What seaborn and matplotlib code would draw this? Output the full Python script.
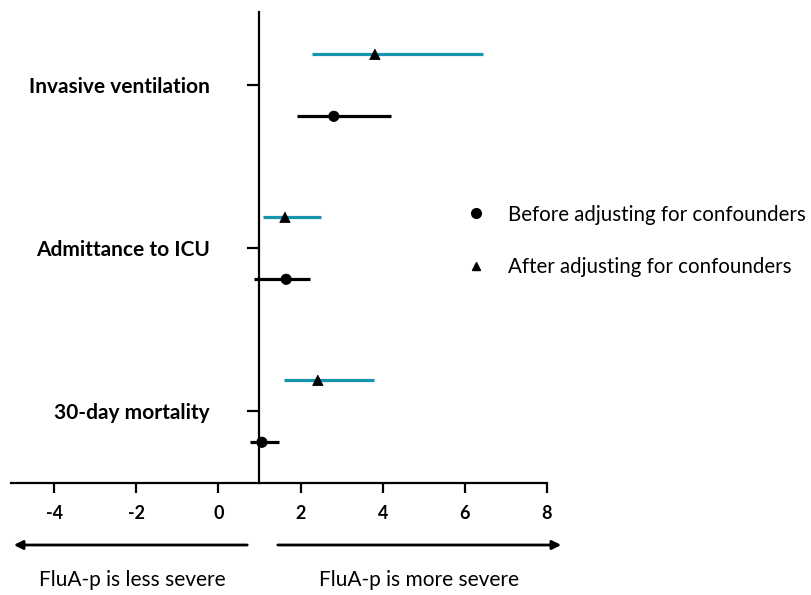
import numpy as np
import pandas as pd
import seaborn as sns
import matplotlib.pyplot as plt
from matplotlib.lines import Line2D

# Odds ratios with confidence intervals
outcomes = ['Invasive ventilation', 'Admittance to ICU', '30-day mortality']
before_est = [2.81, 1.65, 1.06]
before_lo = [1.92, 0.87, 0.77]
before_hi = [4.20, 2.23, 1.48]
after_est = [3.81, 1.62, 2.42]
after_lo = [2.28, 1.09, 1.60]
after_hi = [6.44, 2.50, 3.79]
x_ticks = [-4, -2, 0, 2, 4, 6, 8]

lab_before = 'Before adjusting for confounders'
lab_after = 'After adjusting for confounders'
teal = '#1795ad'

sns.set_style('white')
plt.rcParams['font.family'] = ['Lato', 'DejaVu Sans']
plt.rcParams['text.color'] = 'black'
plt.rcParams['xtick.color'] = 'black'
plt.rcParams['ytick.color'] = 'black'

pos = np.arange(len(outcomes))
df = pd.DataFrame({
    'outcome': outcomes * 2,
    'group': [lab_before] * 3 + [lab_after] * 3,
    'est': before_est + after_est,
    'lo': before_lo + after_lo,
    'hi': before_hi + after_hi,
    'y': list(pos + 0.19) + list(pos - 0.19),
})

fig = plt.figure(figsize=(8.11, 5.95), dpi=100)
ax = fig.add_axes([11 / 811, 112 / 595, 536 / 811, 471 / 595])

bef = df[df['group'] == lab_before]
aft = df[df['group'] == lab_after]
ax.hlines(aft['y'], aft['lo'], aft['hi'], color=teal, lw=2.3, zorder=2)
ax.hlines(bef['y'], bef['lo'], bef['hi'], color='black', lw=2.3, zorder=2)
sns.scatterplot(data=df, x='est', y='y', style='group',
                markers={lab_before: 'o', lab_after: '^'},
                color='black', edgecolor='black', s=55, legend=False,
                zorder=3, ax=ax)

# y axis sits at x = 1 (no effect)
for s in ['top', 'right']:
    ax.spines[s].set_visible(False)
ax.spines['left'].set_position(('data', 1))
for s in ['left', 'bottom']:
    ax.spines[s].set_linewidth(1.6)
    ax.spines[s].set_color('black')

ax.set_xlim(-5.05, 8.0)
ax.set_ylim(2.44, -0.45)
ax.set_xticks(x_ticks)
ax.set_xticklabels([str(t) for t in x_ticks], fontweight='bold', fontsize=13)
ax.set_yticks(pos)
ax.set_yticklabels(outcomes, fontweight='bold', fontsize=15)
ax.set_xlabel('')
ax.set_ylabel('')
ax.tick_params(axis='y', direction='out', length=9, width=1.6, pad=27, left=True)
ax.tick_params(axis='x', direction='out', length=7, width=1.6, pad=9, bottom=True)

handles = [
    Line2D([], [], ls='none', marker='o', color='black', markersize=7, label=lab_before),
    Line2D([], [], ls='none', marker='^', color='black', markersize=6, label=lab_after),
]
fig.legend(handles=handles, loc='center left', bbox_to_anchor=(437 / 811, 1 - 241 / 595),
           frameon=False, fontsize=14.8, labelspacing=1.6, handletextpad=0.55)

# direction arrows under the axis
ax.annotate('', xy=(11 / 811, 1 - 545 / 595), xytext=(250 / 811, 1 - 545 / 595),
            xycoords='figure fraction', textcoords='figure fraction',
            arrowprops=dict(arrowstyle='-|>', color='black', lw=2, mutation_scale=13))
ax.annotate('', xy=(564 / 811, 1 - 545 / 595), xytext=(275 / 811, 1 - 545 / 595),
            xycoords='figure fraction', textcoords='figure fraction',
            arrowprops=dict(arrowstyle='-|>', color='black', lw=2, mutation_scale=13))
fig.text(132 / 811, 1 - 580 / 595, 'FluA-p is less severe', ha='center', va='center', fontsize=15)
fig.text(419 / 811, 1 - 580 / 595, 'FluA-p is more severe', ha='center', va='center', fontsize=15)

fig.savefig('out.png', dpi=100)
